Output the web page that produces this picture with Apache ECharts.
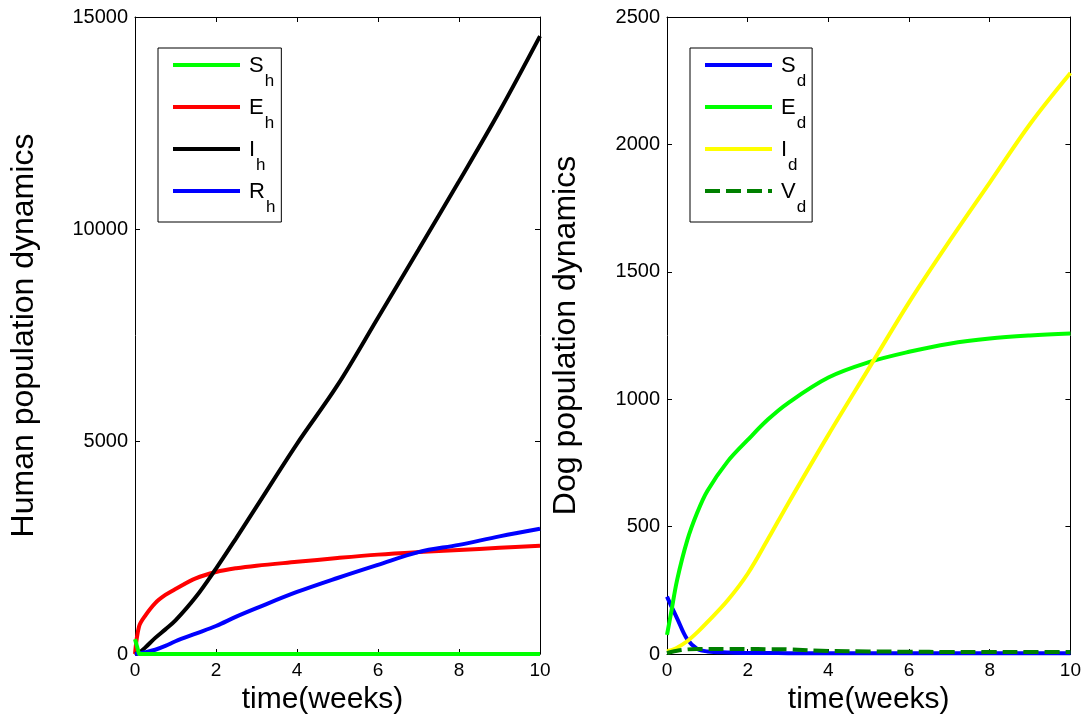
<!DOCTYPE html>
<html>
<head>
<meta charset="utf-8">
<title>Population dynamics</title>
<script src="https://cdn.jsdelivr.net/npm/echarts@6/dist/echarts.min.js"></script>
<style>
  html, body { margin: 0; padding: 0; background: #fff; }
  #chart { width: 1084px; height: 724px; }
</style>
</head>
<body>
<div id="chart"></div>
<script>
// time points (weeks)
var weeks = [0, 0.1, 0.25, 0.5, 0.75, 1, 1.5, 2, 2.5, 3, 4, 5, 6, 7, 8, 9, 10];

// human compartments
var sh = [350, 0, 0, 0, 0, 0, 0, 0, 0, 0, 0, 0, 0, 0, 0, 0, 0];
var eh = [0, 650, 900, 1200, 1390, 1530, 1780, 1930, 2020, 2080, 2170, 2260, 2340, 2400, 2450, 2500, 2550];
var ih = [0, 30, 150, 380, 580, 790, 1340, 2010, 2730, 3470, 4950, 6330, 7920, 9520, 11130, 12780, 14550];
var rh = [0, 15, 40, 100, 190, 300, 480, 660, 880, 1080, 1460, 1790, 2100, 2400, 2570, 2770, 2950];

// dog compartments
var sd = [225, 190, 140, 58, 20, 10, 6, 4, 4, 3, 3, 3, 3, 3, 3, 3, 3];
var ed = [75, 160, 290, 445, 555, 640, 755, 840, 920, 985, 1085, 1145, 1186, 1218, 1238, 1250, 1258];
var id = [10, 15, 25, 50, 85, 125, 210, 315, 450, 590, 860, 1120, 1380, 1620, 1850, 2080, 2280];
var vd = [3, 8, 13, 18, 20, 20, 20, 20, 19, 18, 12, 10, 9, 8, 8, 8, 8];

var xTicks = [0, 2, 4, 6, 8, 10];
var humanTicks = [0, 5000, 10000, 15000];
var dogTicks = [0, 500, 1000, 1500, 2000, 2500];

var FONT = "Liberation Sans";

function pairs(values) {
  return weeks.map(function (t, i) {
    return [t, values[i]];
  });
}

function line(name, values, color, axis, dashed, sharp) {
  return {
    name: name,
    type: "line",
    xAxisIndex: axis * 2,
    yAxisIndex: axis * 2,
    data: pairs(values),
    showSymbol: false,
    symbol: "none",
    smooth: sharp ? false : 0.35,
    lineStyle: { color: color, width: 4, type: dashed ? [15, 6] : "solid" },
    itemStyle: { color: color }
  };
}

function xAxes(grid) {
  var base = {
    type: "value",
    gridIndex: grid,
    min: xTicks[0],
    max: xTicks[xTicks.length - 1],
    interval: 2,
    splitLine: { show: false },
    axisLine: { show: true, onZero: false, lineStyle: { color: "#000", width: 1 } },
    axisTick: { show: true, inside: true, length: 5, lineStyle: { color: "#000" } }
  };
  var bottom = Object.assign({}, base, {
    position: "bottom",
    name: "time(weeks)",
    nameLocation: "middle",
    nameGap: 24,
    nameTextStyle: { fontFamily: FONT, fontSize: 30, color: "#000", padding: grid === 0 ? [0, 30, 0, 0] : 0 },
    axisLabel: { fontFamily: FONT, fontSize: 19, color: "#000", margin: 7 }
  });
  var top = Object.assign({}, base, {
    position: "top",
    axisLabel: { show: false }
  });
  return [bottom, top];
}

function yAxes(grid, ticks, title, gap) {
  var base = {
    type: "value",
    gridIndex: grid,
    min: ticks[0],
    max: ticks[ticks.length - 1],
    interval: ticks[1] - ticks[0],
    splitLine: { show: false },
    axisLine: { show: true, onZero: false, lineStyle: { color: "#000", width: 1 } },
    axisTick: { show: true, inside: true, length: 5, lineStyle: { color: "#000" } }
  };
  var left = Object.assign({}, base, {
    position: "left",
    name: title,
    nameLocation: "middle",
    nameGap: gap,
    nameTextStyle: { fontFamily: FONT, fontSize: 32, color: "#000" },
    axisLabel: {
      fontFamily: FONT, fontSize: 20, color: "#000", margin: 7,
      formatter: function (v) { return String(v); }
    }
  });
  var right = Object.assign({}, base, {
    position: "right",
    axisLabel: { show: false }
  });
  return [left, right];
}

function legend(names, left) {
  return {
    data: names,
    orient: "vertical",
    left: left,
    top: 48,
    padding: [5, 6, 6, 13],
    itemGap: 5,
    itemWidth: 67,
    itemHeight: 14,
    borderColor: "#000",
    borderWidth: 1,
    backgroundColor: "#fff",
    selectedMode: false,
    itemStyle: { color: "rgba(0,0,0,0)", borderWidth: 0, opacity: 0 },
    lineStyle: { width: 4 },
    formatter: function (name) {
      var parts = name.split("_");
      return "{m|" + parts[0] + "}{s|" + parts[1] + "}";
    },
    textStyle: {
      color: "#000",
      fontFamily: FONT,
      rich: {
        m: { fontFamily: FONT, fontSize: 22, lineHeight: 24, color: "#000", verticalAlign: "top", padding: [2, 0, 0, 4] },
        s: { fontFamily: FONT, fontSize: 17, lineHeight: 16, color: "#000", verticalAlign: "top", padding: [20, 0, 0, 1] }
      }
    }
  };
}

var chart = echarts.init(document.getElementById("chart"));

chart.setOption({
  animation: false,
  backgroundColor: "#fff",
  grid: [
    { left: 135, top: 17, width: 405, height: 637 },
    { left: 667, top: 17, width: 405, height: 637 }
  ],
  xAxis: xAxes(0).concat(xAxes(1)),
  yAxis: yAxes(0, humanTicks, "Human population dynamics", 95).concat(yAxes(1, dogTicks, "Dog population dynamics", 85)),
  legend: [
    legend(["S_h", "E_h", "I_h", "R_h"], 158),
    legend(["S_d", "E_d", "I_d", "V_d"], 690)
  ],
  series: [
    line("E_h", eh, "#ff0000", 0),
    line("I_h", ih, "#000000", 0),
    line("R_h", rh, "#0000ff", 0),
    line("S_h", sh, "#00ff00", 0, false, true),
    line("S_d", sd, "#0000ff", 1),
    line("E_d", ed, "#00ff00", 1),
    line("I_d", id, "#ffff00", 1),
    line("V_d", vd, "#008000", 1, true)
  ]
});
</script>
</body>
</html>
